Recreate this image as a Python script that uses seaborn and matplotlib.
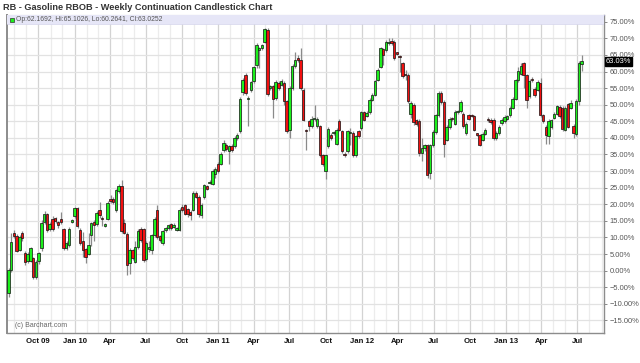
import numpy as np
import pandas as pd
import matplotlib
matplotlib.use("Agg")
import matplotlib.pyplot as plt
import matplotlib.dates as mdates
from matplotlib.patches import Rectangle
import seaborn as sns

sns.set_style("white")
plt.rcParams['font.family'] = ['Liberation Sans', 'DejaVu Sans']

# ---------------- data (weekly OHLC, % change) ----------------
start_date = "2009-07-17"
opens = [-6.6, 0.2, 11.4, 10.4, 6.2, 11.4, 5.2, 2.8, 3.0, 3.7, -2.0, 2.8, 6.7, 14.7, 17.0, 12.6, 15.7, 15.9, 14.7, 15.7,
         12.5, 6.7, 7.7, 14.7, 16.5, 18.9, 12.4, 9.0, 6.4, 5.0, 10.7, 14.7, 14.2, 18.2, 15.8, 13.6, 15.7, 21.7, 21.7, 18.4,
         24.0, 25.4, 14.5, 11.2, 2.2, 6.2, 2.7, 7.0, 12.7, 12.5, 3.4, 6.6, 6.2, 10.7, 18.2, 10.4, 8.2, 12.2, 12.8, 14.0,
         13.2, 12.4, 12.4, 19.2, 19.7, 18.7, 17.7, 18.4, 23.4, 22.2, 16.7, 22.2, 25.4, 26.5, 26.2, 29.2, 32.2, 32.2, 36.3, 38.0,
         36.0, 37.7, 37.5, 40.0, 42.0, 53.7, 59.0, 51.6, 54.3, 57.0, 62.0, 66.5, 67.0, 69.0, 72.5, 55.0, 55.5, 52.0, 56.5, 56.0,
         56.5, 51.0, 42.5, 55.0, 61.7, 64.0, 63.5, 54.5, 42.2, 45.0, 43.7, 45.6, 43.7, 43.5, 34.7, 30.0, 37.5, 41.0, 41.5, 38.3,
         45.0, 42.0, 35.3, 36.0, 41.4, 41.5, 34.7, 42.0, 43.0, 47.7, 46.7, 47.7, 51.5, 53.0, 57.5, 61.5, 66.7, 66.5, 68.5, 69.3,
         69.0, 65.6, 64.5, 62.5, 59.3, 59.0, 47.3, 50.0, 45.3, 45.1, 35.5, 37.1, 37.8, 29.5, 37.8, 41.8, 46.8, 53.5, 50.8, 39.5,
         43.3, 45.9, 44.3, 47.8, 48.1, 47.3, 41.5, 46.8, 46.8, 46.5, 41.1, 40.8, 39.5, 41.3, 45.8, 45.5, 45.5, 40.0, 41.5, 44.4,
         45.0, 45.8, 46.8, 49.1, 51.8, 57.3, 59.3, 62.5, 58.8, 52.6, 57.8, 54.8, 54.5, 56.5, 46.8, 43.3, 40.5, 43.3, 46.1, 47.3,
         49.3, 49.1, 42.5, 50.1, 49.1, 43.6, 41.1, 51.1, 62.17]
highs = [0.8, 11.5, 12.4, 11.0, 10.8, 11.9, 5.8, 5.6, 7.2, 4.2, 3.2, 5.6, 15.2, 17.9, 17.5, 14.6, 16.5, 16.3, 15.0, 17.8,
         13.0, 9.0, 13.2, 15.6, 19.3, 19.2, 12.8, 11.7, 6.8, 11.5, 14.8, 15.2, 18.0, 20.6, 16.5, 14.4, 20.9, 22.8, 22.2, 24.6,
         26.2, 27.4, 15.5, 11.8, 6.8, 6.6, 9.0, 12.6, 13.2, 12.9, 8.8, 9.0, 11.2, 16.2, 19.7, 10.9, 12.4, 13.2, 14.2, 14.4,
         14.3, 13.3, 18.9, 20.2, 20.0, 19.0, 18.2, 23.9, 23.9, 22.7, 20.3, 26.2, 25.9, 27.2, 30.5, 31.2, 32.6, 35.8, 39.5, 38.5,
         38.0, 38.2, 40.5, 41.5, 52.3, 58.0, 59.5, 52.5, 57.2, 61.8, 68.5, 67.5, 68.4, 73.2, 73.0, 56.0, 56.0, 57.5, 57.0, 57.8,
         57.0, 51.5, 55.5, 62.2, 66.0, 65.0, 67.0, 55.0, 42.8, 45.5, 46.5, 50.0, 46.2, 44.0, 35.2, 35.2, 43.2, 41.5, 42.0, 43.0,
         45.8, 42.5, 35.8, 42.5, 43.0, 42.0, 41.0, 42.5, 48.2, 48.2, 48.0, 52.0, 53.5, 57.5, 61.0, 67.5, 67.2, 69.5, 70.0, 70.0,
         69.5, 66.0, 65.0, 63.0, 60.5, 59.5, 51.0, 50.5, 45.8, 45.6, 40.0, 38.3, 38.3, 38.3, 42.3, 47.3, 54.0, 54.0, 51.3, 43.8,
         46.3, 46.3, 48.3, 48.5, 51.3, 47.8, 44.8, 47.3, 47.2, 47.0, 41.5, 41.3, 41.8, 43.0, 46.3, 46.0, 46.0, 42.0, 43.8, 45.9,
         46.8, 47.0, 49.6, 52.3, 57.8, 61.3, 62.7, 63.0, 59.3, 57.6, 58.3, 55.3, 57.3, 58.0, 47.3, 43.8, 45.6, 45.8, 47.8, 50.0,
         49.8, 49.6, 49.5, 50.6, 51.5, 44.1, 51.6, 63.2, 65.10]
lows = [-7.8, -0.5, 9.8, 5.5, 5.8, 9.0, 1.8, 2.2, 2.6, -2.5, -2.4, 2.0, 6.0, 14.0, 11.6, 12.0, 12.0, 14.3, 12.8, 14.2,
        6.3, 6.2, 7.2, 14.3, 16.0, 13.0, 7.8, 4.2, 2.2, 4.6, 7.5, 9.0, 13.5, 16.0, 13.5, 13.2, 15.2, 20.5, 20.2, 17.8,
        23.5, 11.5, 11.0, -1.3, -1.0, 3.2, 2.2, 6.4, 8.6, 2.7, 2.8, 5.5, 5.0, 10.0, 9.5, 8.7, 7.6, 11.7, 12.3, 12.3,
        12.8, 12.0, 12.0, 17.7, 16.7, 16.3, 15.3, 17.9, 21.8, 16.3, 16.0, 21.5, 24.2, 26.0, 25.7, 28.0, 29.5, 31.7, 35.8, 36.2,
        32.0, 35.8, 37.0, 39.5, 41.5, 53.0, 53.0, 43.5, 53.8, 56.5, 61.0, 61.0, 66.5, 68.5, 52.5, 54.5, 46.0, 51.5, 54.5, 55.5,
        50.0, 41.5, 40.0, 54.5, 61.0, 63.0, 54.5, 45.0, 36.5, 42.0, 43.0, 45.0, 43.0, 34.2, 31.5, 27.5, 37.0, 39.5, 41.0, 37.8,
        42.0, 35.5, 34.2, 35.5, 38.0, 34.2, 34.2, 40.0, 42.5, 45.0, 46.2, 47.2, 51.0, 52.5, 57.0, 61.0, 62.0, 66.0, 68.0, 68.0,
        63.5, 65.0, 60.0, 58.0, 57.5, 50.5, 46.0, 44.0, 43.5, 34.5, 33.0, 36.0, 28.0, 27.5, 37.3, 41.3, 46.3, 50.3, 34.3, 39.0,
        42.8, 45.2, 43.8, 47.3, 47.6, 43.0, 41.0, 45.3, 46.2, 42.0, 40.5, 37.5, 39.0, 40.8, 44.8, 44.3, 39.5, 39.5, 41.0, 43.9,
        44.5, 45.3, 46.3, 48.6, 51.3, 56.8, 58.8, 55.0, 49.0, 52.1, 56.8, 52.3, 54.0, 46.3, 44.6, 38.3, 38.3, 42.8, 45.6, 46.8,
        46.0, 42.0, 42.0, 43.0, 48.6, 40.0, 40.6, 50.0, 60.26]
closes = [0.2, 8.7, 10.4, 6.0, 10.0, 9.7, 2.7, 5.0, 6.7, -2.0, 2.7, 5.2, 14.4, 17.2, 12.2, 14.0, 12.5, 14.9, 13.7, 14.7,
          6.9, 8.4, 12.7, 15.2, 18.9, 13.4, 8.2, 6.2, 4.2, 7.7, 14.4, 13.7, 17.4, 16.7, 15.6, 14.0, 20.4, 21.0, 20.7, 24.2,
          25.4, 12.0, 11.5, 1.7, 6.2, 3.7, 7.0, 11.9, 9.2, 3.2, 8.2, 7.2, 10.7, 15.7, 10.0, 9.2, 11.9, 12.8, 13.8, 12.8,
          13.9, 12.9, 18.4, 18.2, 17.2, 17.2, 16.9, 23.4, 22.2, 17.0, 19.7, 25.7, 24.7, 26.7, 30.0, 30.7, 30.0, 35.2, 38.5, 36.7,
          37.5, 36.3, 40.0, 41.0, 51.8, 57.5, 53.5, 51.9, 56.7, 61.3, 68.0, 67.0, 68.0, 72.7, 53.3, 55.5, 51.7, 56.7, 55.0, 57.0,
          51.0, 42.0, 55.0, 61.7, 63.5, 63.5, 55.0, 45.5, 42.0, 43.5, 45.7, 45.8, 45.7, 34.7, 32.0, 34.7, 42.7, 40.0, 41.6, 42.5,
          42.5, 36.0, 34.7, 42.0, 41.6, 34.7, 40.5, 40.5, 47.7, 45.5, 47.5, 51.5, 53.0, 57.0, 60.5, 67.0, 65.0, 69.0, 69.0, 68.5,
          64.0, 65.4, 64.3, 58.5, 58.8, 51.0, 50.5, 44.8, 44.1, 35.5, 37.1, 37.8, 28.8, 37.8, 41.8, 46.8, 53.5, 50.8, 38.3, 43.3,
          45.8, 45.7, 47.8, 48.0, 50.8, 43.5, 44.3, 45.8, 46.6, 42.5, 41.0, 38.0, 41.3, 42.5, 45.3, 44.8, 40.0, 41.5, 43.3, 45.4,
          46.3, 46.5, 49.1, 51.8, 57.3, 60.3, 61.8, 58.8, 51.5, 57.1, 57.3, 52.8, 56.8, 46.8, 45.1, 40.8, 45.1, 45.3, 47.3, 49.5,
          46.5, 42.6, 49.0, 43.3, 50.5, 41.6, 51.1, 62.7, 63.03]

title = "RB - Gasoline RBOB - Weekly Continuation Candlestick Chart"
legend_text = "Op:62.1692, Hi:65.1026, Lo:60.2641, Cl:63.0252"
last_label = "63.03%"
quarter_labels = ["Oct 09", "Jan 10", "Apr", "Jul", "Oct", "Jan 11", "Apr", "Jul",
                  "Oct", "Jan 12", "Apr", "Jul", "Oct", "Jan 13", "Apr", "Jul"]
quarter_dates = pd.date_range("2009-10-01", "2013-07-01", freq="QS")
month_dates = pd.date_range("2009-08-01", "2013-09-01", freq="MS")
ytick_vals = list(range(-15, 80, 5))

# ---------------- build frame ----------------
n = len(closes)
dates = pd.date_range(start_date, periods=n, freq="7D")
df = pd.DataFrame({"date": dates, "open": opens, "high": highs, "low": lows, "close": closes})
df["x"] = mdates.date2num(df["date"])
df["up"] = df["close"] >= df["open"]

W, H = 640, 363
fig = plt.figure(figsize=(W / 100, H / 100), dpi=100)
ax = fig.add_axes([7 / W, 30 / H, 597 / W, 318 / H])

# wicks
ax.vlines(df["x"] + 0.8, df["low"], df["high"], color="#8a8a8a", lw=0.9, zorder=2)
# bodies
bottom = np.minimum(df["open"], df["close"])
height = np.maximum(np.abs(df["close"] - df["open"]), 0.35)
colors = np.where(df["up"], "#1cf01c", "#f21010")
ax.bar(df["x"], height, bottom=bottom, width=6.2, color=colors,
       edgecolor="#111111", linewidth=0.5, zorder=3)

# axes range
ax.set_ylim(-18.77, 77.02)
ax.set_xlim(df["x"].iloc[0] - 3.5, df["x"].iloc[-1] + 57)

# grid
ax.set_xticks(mdates.date2num(quarter_dates))
ax.set_xticklabels(quarter_labels, fontsize=5.6, fontweight="bold", color="#111111")
ax.set_xticks(mdates.date2num(month_dates), minor=True)
ax.tick_params(axis="x", which="both", length=0, pad=3.5)
ax.grid(True, axis="x", which="major", color="#d3d3d3", lw=0.9, zorder=0)
ax.grid(True, axis="x", which="minor", color="#ececec", lw=0.9, zorder=0)
ax.set_yticks(ytick_vals)
ax.set_yticklabels([f"{v:.2f}%".replace("-", "\u2212") for v in ytick_vals],
                   fontsize=5.4, color="#555555")
ax.yaxis.tick_right()
ax.tick_params(axis="y", which="major", length=2.5, width=0.7, color="#888888", pad=1.5)
ax.grid(True, axis="y", color="#e2e2e2", lw=0.9, zorder=0)
ax.set_axisbelow(True)

for side in ["left", "right", "bottom"]:
    ax.spines[side].set_color("#8c8c8c")
    ax.spines[side].set_linewidth(1.0)
ax.spines["left"].set_linewidth(1.4)
ax.spines["top"].set_color("#a8a8c8")
ax.spines["top"].set_linewidth(0.8)

# legend band
ax.axhspan(74.3, 77.02, color="#e6e6f7", zorder=4, lw=0)
ax.axhline(74.3, color="#d8d8ee", lw=0.6, zorder=4)
fig.add_artist(Rectangle((9.5 / W, 1 - 22 / H), 4.5 / W, 4.5 / H, transform=fig.transFigure,
                         facecolor="#1cf01c", edgecolor="#333333", lw=0.5, zorder=5))
fig.text(16 / W, 1 - 19.3 / H, legend_text, fontsize=4.9, color="#555555", va="center", ha="left")

# title
fig.text(3 / W, 1 - 7.5 / H, title, fontsize=6.6, fontweight="bold", color="#333333", va="center", ha="left")

# copyright
fig.text(15 / W, 1 - 325.5 / H, "(c) Barchart.com", fontsize=5.0, color="#666666", va="center", ha="left")

# last price box
ax.text(1.003, closes[-1], last_label, transform=ax.get_yaxis_transform(), fontsize=5.4,
        color="white", va="center", ha="left", zorder=6,
        bbox=dict(boxstyle="square,pad=0.12", facecolor="black", edgecolor="black"))

fig.savefig("out.png", dpi=100)
